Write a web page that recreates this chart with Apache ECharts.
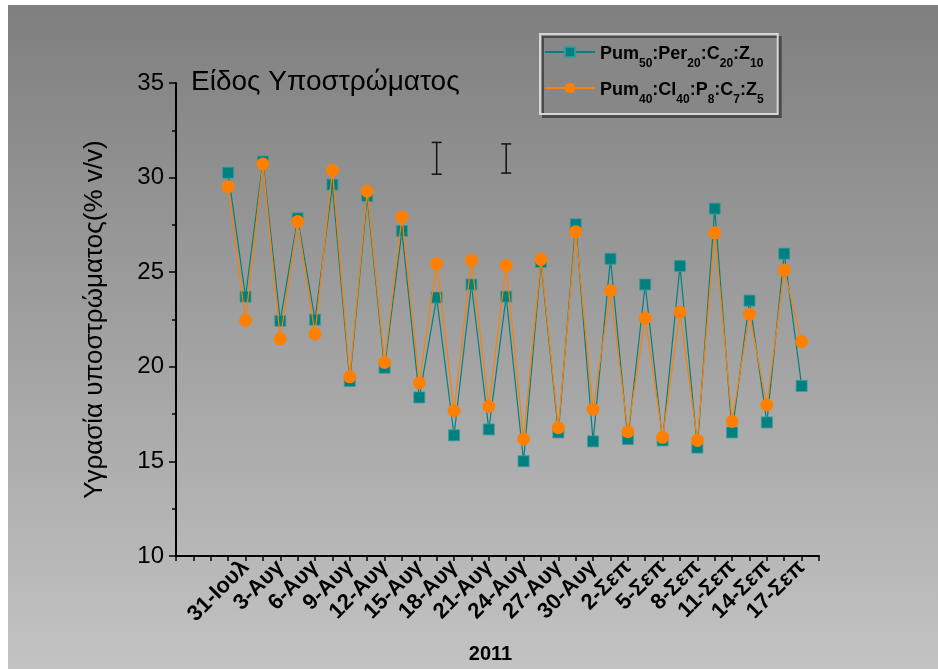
<!DOCTYPE html>
<html>
<head>
<meta charset="utf-8">
<script src="https://cdn.jsdelivr.net/npm/echarts@6/dist/echarts.min.js"></script>
<style>
html,body{margin:0;padding:0;background:#fff;}
#chart{width:938px;height:669px;}
</style>
</head>
<body>
<div id="chart"></div>
<script>
// Category slots (one per axis tick); dates shown every 3 days
var categories = ['', '', '', '', '31-Ιουλ', '', '3-Αυγ', '', '6-Αυγ', '', '9-Αυγ', '', '12-Αυγ', '', '15-Αυγ', '', '18-Αυγ', '', '21-Αυγ', '', '24-Αυγ', '', '27-Αυγ', '', '30-Αυγ', '', '2-Σεπ', '', '5-Σεπ', '', '8-Σεπ', '', '11-Σεπ', '', '14-Σεπ', '', '17-Σεπ', ''];

var seriesTeal = [null, null, null,
  30.26, 23.71, 30.85, 22.43, 27.85, 22.49, 29.63, 19.25, 29.02, 19.95,
  27.18, 18.38, 23.66, 16.38, 24.35, 16.69, 23.71, 15.01, 25.54, 16.53,
  27.53, 16.06, 25.71, 16.18, 24.35, 16.11, 25.33, 15.73, 28.36, 16.53,
  23.50, 17.06, 25.98, 18.99, null];

var seriesOrange = [null, null, null,
  29.52, 22.45, 30.72, 21.48, 27.68, 21.74, 30.38, 19.47, 29.28, 20.23,
  27.92, 19.15, 25.45, 17.68, 25.63, 17.91, 25.36, 16.18, 25.68, 16.78,
  27.14, 17.75, 24.02, 16.57, 22.57, 16.27, 22.90, 16.11, 27.08, 17.11,
  22.78, 17.98, 25.10, 21.33, null];

// Stand-alone error bars: [category index, low, high]
var errorBars = [[15, 30.18, 31.86], [19, 30.24, 31.78]];

var yTicks = {min: 10, max: 35, interval: 5};

var chart = echarts.init(document.getElementById('chart'), null, {renderer: 'canvas'});
var FONT = '"Liberation Sans", Arial, sans-serif';

var option = {
  backgroundColor: '#ffffff',
  animation: false,
  graphic: [{
    type: 'rect', z: -100, silent: true,
    shape: {x: 8, y: 5, width: 930, height: 664},
    style: {fill: new echarts.graphic.LinearGradient(0, 0, 0, 1, [
      {offset: 0, color: '#7f7f7f'}, {offset: 1, color: '#c3c3c3'}])}
  }],
  title: {
    text: 'Είδος Υποστρώματος',
    left: 186, top: 63,
    textStyle: {fontFamily: FONT, fontSize: 28, fontWeight: 'normal', color: '#000'}
  },
  legend: {
    left: 540, top: 34,
    orient: 'vertical',
    padding: [11, 14, 8, 4],
    itemGap: 11,
    itemWidth: 50, itemHeight: 13,
    backgroundColor: '#878787',
    borderColor: '#d6d6d6', borderWidth: 2,
    shadowColor: '#4a4a4a', shadowBlur: 0, shadowOffsetX: 3, shadowOffsetY: 3,
    data: ['teal', 'orange'],
    formatter: function (name) {
      if (name === 'teal') return '{m|Pum}{s|50}{m|:Per}{s|20}{m|:C}{s|20}{m|:Z}{s|10}';
      return '{m|Pum}{s|40}{m|:Cl}{s|40}{m|:P}{s|8}{m|:C}{s|7}{m|:Z}{s|5}';
    },
    textStyle: {
      rich: {
        m: {fontFamily: FONT, fontSize: 18, fontWeight: 'bold', color: '#000', verticalAlign: 'bottom', lineHeight: 22},
        s: {fontFamily: FONT, fontSize: 12, fontWeight: 'bold', color: '#000', verticalAlign: 'bottom', lineHeight: 22, padding: [0, 0, -7, 0]}
      }
    }
  },
  grid: {left: 176, top: 83, right: 119, bottom: 109, containLabel: false},
  xAxis: {
    type: 'category',
    data: categories,
    boundaryGap: false,
    name: '2011',
    nameLocation: 'middle',
    nameGap: 88,
    nameTextStyle: {fontFamily: FONT, fontSize: 20, fontWeight: 'bold', color: '#000', padding: [0, 14, 0, 0]},
    axisLine: {lineStyle: {color: '#000', width: 2}},
    axisTick: {show: true, interval: 0, inside: false, length: 5, lineStyle: {color: '#000', width: 1.5}},
    axisLabel: {interval: 0, rotate: 45, margin: 8, fontFamily: FONT, fontSize: 22, fontWeight: 'bold', color: '#000'},
    splitLine: {show: false}
  },
  yAxis: {
    type: 'value',
    min: yTicks.min, max: yTicks.max, interval: yTicks.interval,
    name: 'Υγρασία υποστρώματος(% v/v)',
    nameLocation: 'middle',
    nameGap: 68,
    nameTextStyle: {fontFamily: FONT, fontSize: 26, color: '#000'},
    axisLine: {show: true, lineStyle: {color: '#000', width: 2}},
    axisTick: {show: true, inside: false, length: 7, lineStyle: {color: '#000', width: 1.5}},
    minorTick: {show: true, splitNumber: 2, length: 4, lineStyle: {color: '#000', width: 1.5}},
    axisLabel: {margin: 12, fontFamily: FONT, fontSize: 24, color: '#000'},
    splitLine: {show: false}
  },
  series: [
    {
      name: 'teal', type: 'line', data: seriesTeal, z: 2,
      symbol: 'rect', symbolSize: 11,
      lineStyle: {color: '#008080', width: 1.2},
      itemStyle: {color: '#008080', borderColor: '#3d9a9a', borderWidth: 0.8}
    },
    {
      name: 'orange', type: 'line', data: seriesOrange, z: 3,
      symbol: 'circle', symbolSize: 13,
      lineStyle: {color: '#ff8000', width: 1.2},
      itemStyle: {color: '#ff8000'}
    },
    {
      name: 'err', type: 'custom', z: 4,
      data: errorBars,
      renderItem: function (params, api) {
        var k = api.value(0);
        var lo = api.coord([k, api.value(1)]);
        var hi = api.coord([k, api.value(2)]);
        var w = 5;
        var st = {stroke: '#111', lineWidth: 1.5};
        return {type: 'group', children: [
          {type: 'line', shape: {x1: lo[0], y1: lo[1], x2: hi[0], y2: hi[1]}, style: st},
          {type: 'line', shape: {x1: lo[0] - w, y1: lo[1], x2: lo[0] + w, y2: lo[1]}, style: st},
          {type: 'line', shape: {x1: hi[0] - w, y1: hi[1], x2: hi[0] + w, y2: hi[1]}, style: st}
        ]};
      }
    }
  ]
};
chart.setOption(option);
</script>
</body>
</html>
